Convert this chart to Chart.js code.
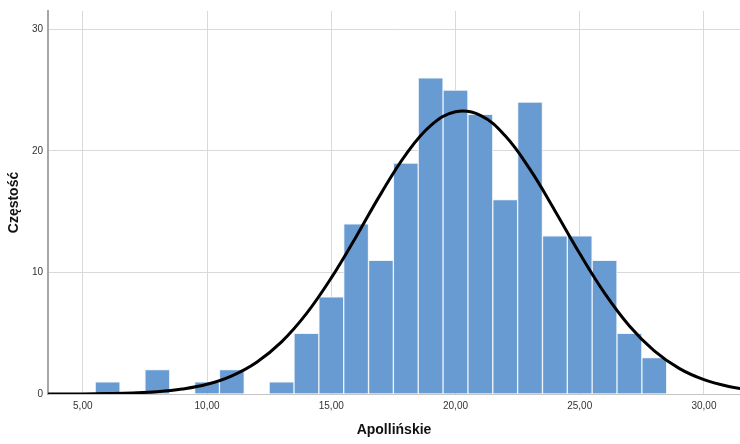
<!DOCTYPE html>
<html>
<head>
<meta charset="utf-8">
<script src="https://cdn.jsdelivr.net/npm/chart.js@4/dist/chart.umd.min.js"></script>
<style>
  html, body { margin: 0; padding: 0; background: #fff; }
  #wrap { width: 740px; height: 444px; }
</style>
</head>
<body>
<div id="wrap"><canvas id="hist" width="740" height="444"></canvas></div>
<script>
// Histogram of "Apollińskie" with a fitted normal curve (SPSS style)

// Bin centres (bin width 1) and their counts
const binCenters = [6, 8, 10, 11, 13, 14, 15, 16, 17, 18, 19, 20, 21, 22, 23, 24, 25, 26, 27, 28];
const binCounts  = [1, 2, 1, 2, 1, 5, 8, 14, 11, 19, 26, 25, 23, 16, 24, 13, 13, 11, 5, 3];

// Normal curve at whole x values
const curveX = [3, 4, 5, 6, 7, 8, 9, 10, 11, 12, 13, 14, 15, 16, 17, 18, 19, 20,
                21, 22, 23, 24, 25, 26, 27, 28, 29, 30, 31, 32];
const curveY = [0.00, 0.01, 0.01, 0.04, 0.09, 0.19, 0.41, 0.80, 1.50, 2.62, 4.29, 6.61, 9.55, 12.94, 16.48, 19.69, 22.07, 23.21,
                22.92, 21.24, 18.47, 15.08, 11.55, 8.30, 5.60, 3.55, 2.11, 1.18, 0.62, 0.30];

// Axis ticks
const xTicks = [5, 10, 15, 20, 25, 30];
const yTicks = [0, 10, 20, 30];

const xLabel = 'Apollińskie';
const yLabel = 'Częstość';

const gridColor = '#d9d9d9';
const tickFont = { family: 'Liberation Sans, Arial, sans-serif', size: 10 };
const titleFont = { family: 'Liberation Sans, Arial, sans-serif', size: 14, weight: 'bold' };

const ctx = document.getElementById('hist').getContext('2d');

new Chart(ctx, {
    type: 'bar',
    data: {
        datasets: [
            {
                type: 'line',
                data: curveX.map((x, i) => ({ x: x, y: curveY[i] })),
                borderColor: '#000000',
                borderWidth: 3,
                pointRadius: 0,
                fill: false,
                tension: 0.4,
                order: 0
            },
            {
                type: 'bar',
                data: binCenters.map((x, i) => ({ x: x, y: binCounts[i] })),
                backgroundColor: '#689bd2',
                borderColor: '#eef3fa',
                borderWidth: 1,
                barPercentage: 1,
                categoryPercentage: 1,
                order: 1
            }
        ]
    },
    options: {
        responsive: false,
        animation: false,
        layout: { padding: { top: 6, right: 0, bottom: 0, left: 0 } },
        plugins: {
            legend: { display: false },
            tooltip: { enabled: false }
        },
        scales: {
            x: {
                type: 'linear',
                min: 3.6,
                max: 31.45,
                offset: false,
                afterBuildTicks: s => { s.ticks = xTicks.map(v => ({ value: v })); },
                afterFit: s => { s.height = 50; },
                grid: { color: gridColor, lineWidth: 1, drawTicks: false, offset: false },
                border: { color: '#c4c4c4', width: 1 },
                ticks: {
                    padding: 6,
                    color: '#333333',
                    font: tickFont,
                    maxRotation: 0,
                    callback: v => v.toFixed(2).replace('.', ',')
                },
                title: {
                    display: true,
                    text: xLabel,
                    color: '#111111',
                    font: titleFont,
                    padding: { top: 0, bottom: 5 }
                }
            },
            y: {
                min: 0,
                max: 31.5,
                afterBuildTicks: s => { s.ticks = yTicks.map(v => ({ value: v })); },
                afterFit: s => { s.width = 48; },
                grid: { color: gridColor, lineWidth: 1, drawTicks: false },
                border: { color: '#a6a6a6', width: 2 },
                ticks: {
                    padding: 5,
                    color: '#333333',
                    font: tickFont
                },
                title: {
                    display: true,
                    text: yLabel,
                    color: '#111111',
                    font: titleFont,
                    padding: { top: 6, bottom: 0 }
                }
            }
        }
    }
});
</script>
</body>
</html>
